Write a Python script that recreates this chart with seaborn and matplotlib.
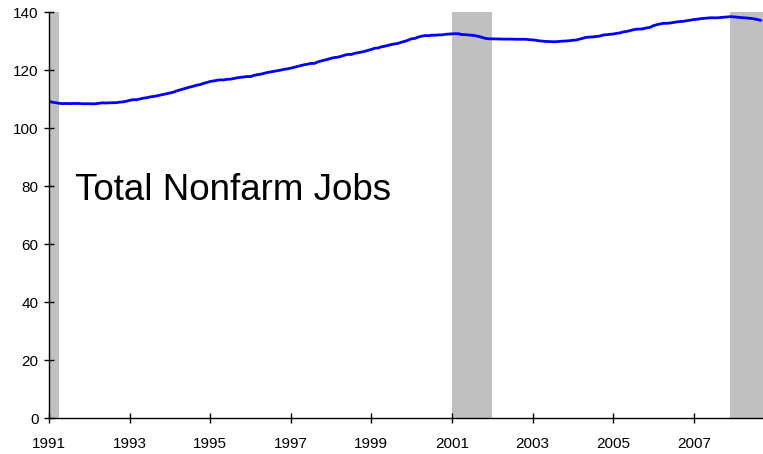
import matplotlib
matplotlib.use("Agg")
import matplotlib.pyplot as plt
import seaborn as sns
import pandas as pd
import numpy as np

# total nonfarm jobs, millions, monthly (Jan 1991 - Sep 2008)
jobs_1991 = [109.19, 108.88, 108.73, 108.52, 108.39, 108.46, 108.41, 108.44, 108.46, 108.45, 108.37, 108.35]
jobs_1992 = [108.39, 108.32, 108.38, 108.55, 108.68, 108.61, 108.69, 108.71, 108.73, 108.90, 109.00, 109.22]
jobs_1993 = [109.53, 109.77, 109.73, 110.00, 110.28, 110.42, 110.70, 110.85, 111.06, 111.32, 111.57, 111.85]
jobs_1994 = [112.13, 112.33, 112.80, 113.14, 113.47, 113.79, 114.13, 114.41, 114.77, 114.97, 115.40, 115.69]
jobs_1995 = [116.04, 116.22, 116.44, 116.60, 116.57, 116.81, 116.83, 117.07, 117.31, 117.45, 117.59, 117.75]
jobs_1996 = [117.71, 118.14, 118.38, 118.55, 118.84, 119.13, 119.33, 119.52, 119.72, 119.96, 120.24, 120.41]
jobs_1997 = [120.64, 120.93, 121.25, 121.54, 121.81, 122.00, 122.30, 122.26, 122.77, 123.10, 123.38, 123.69]
jobs_1998 = [124.04, 124.29, 124.43, 124.71, 125.11, 125.38, 125.35, 125.73, 125.97, 126.17, 126.44, 126.76]
jobs_1999 = [127.10, 127.50, 127.60, 128.00, 128.20, 128.50, 128.80, 129.00, 129.20, 129.60, 129.90, 130.30]
jobs_2000 = [130.78, 130.90, 131.37, 131.66, 131.88, 131.83, 132.00, 132.00, 132.10, 132.10, 132.30, 132.40]
jobs_2001 = [132.47, 132.53, 132.50, 132.20, 132.20, 132.05, 131.99, 131.83, 131.56, 131.22, 130.90, 130.75]
jobs_2002 = [130.75, 130.70, 130.70, 130.65, 130.65, 130.65, 130.65, 130.60, 130.60, 130.60, 130.60, 130.45]
jobs_2003 = [130.40, 130.25, 130.05, 129.95, 129.85, 129.80, 129.75, 129.75, 129.85, 129.95, 130.00, 130.10]
jobs_2004 = [130.25, 130.35, 130.65, 130.95, 131.25, 131.35, 131.40, 131.55, 131.70, 132.05, 132.15, 132.30]
jobs_2005 = [132.40, 132.64, 132.77, 133.13, 133.30, 133.56, 133.88, 134.07, 134.12, 134.21, 134.55, 134.71]
jobs_2006 = [135.30, 135.60, 135.90, 136.10, 136.10, 136.20, 136.40, 136.60, 136.70, 136.80, 137.00, 137.20]
jobs_2007 = [137.40, 137.50, 137.70, 137.80, 137.90, 138.00, 138.00, 138.00, 138.10, 138.20, 138.30, 138.40]
jobs_2008 = [138.30, 138.20, 138.10, 138.00, 137.90, 137.80, 137.60, 137.40, 137.10]

# recession periods (start, end) in decimal years
recessions = [(1991.0, 1991.25), (2001.0, 2002.0), (2007.9, 2008.72)]

year_ticks = [1991, 1993, 1995, 1997, 1999, 2001, 2003, 2005, 2007]
y_ticks = [0, 20, 40, 60, 80, 100, 120, 140]

jobs = (jobs_1991 + jobs_1992 + jobs_1993 + jobs_1994 + jobs_1995 + jobs_1996
        + jobs_1997 + jobs_1998 + jobs_1999 + jobs_2000 + jobs_2001 + jobs_2002
        + jobs_2003 + jobs_2004 + jobs_2005 + jobs_2006 + jobs_2007 + jobs_2008)
df = pd.DataFrame({'date': 1991 + np.arange(len(jobs)) / 12.0, 'jobs': jobs})

sns.set_style("ticks")
plt.rcParams['font.family'] = ['Liberation Sans', 'DejaVu Sans']

fig = plt.figure(figsize=(7.63, 4.54), dpi=100)
ax = fig.add_axes([49 / 763, 36 / 454, 714 / 763, 406 / 454])

for start, end in recessions:
    ax.axvspan(start, end, color='#c0c0c0', lw=0, zorder=0)

sns.lineplot(data=df, x='date', y='jobs', ax=ax, color='#0000ff', lw=2.0, zorder=3)

ax.set_xlim(1991, 2008.72)
ax.set_ylim(0, 140)
ax.set_xticks(year_ticks)
ax.set_yticks(y_ticks)
ax.set_xlabel('')
ax.set_ylabel('')
ax.tick_params(direction='inout', length=7, width=1, colors='black', labelsize=11)
ax.tick_params(axis='x', pad=10)
ax.tick_params(axis='y', pad=4)
for side in ['top', 'right']:
    ax.spines[side].set_visible(False)
for side in ['left', 'bottom']:
    ax.spines[side].set_color('black')
    ax.spines[side].set_linewidth(1)
    ax.spines[side].set_zorder(4)

ax.text(1991.65, 75.3, 'Total Nonfarm Jobs', fontsize=26.5, color='black', va='baseline', ha='left')

fig.savefig('out.png', dpi=100)
